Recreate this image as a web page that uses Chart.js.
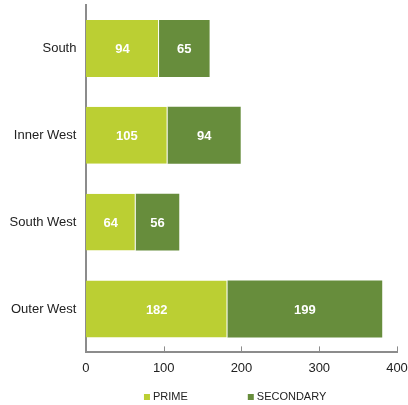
<!DOCTYPE html>
<html>
<head>
<meta charset="utf-8">
<script src="https://cdn.jsdelivr.net/npm/chart.js@4.4.1/dist/chart.umd.min.js"></script>
<style>
  html, body { margin: 0; padding: 0; background: #fff; }
  #wrap { width: 408px; height: 405px; }
</style>
</head>
<body>
<div id="wrap"><canvas id="chart"></canvas></div>
<script>
// regions and the two grades
const regions = ["South", "Inner West", "South West", "Outer West"];
const prime = [94, 105, 64, 182];
const secondary = [65, 94, 56, 199];
const xTicks = [0, 100, 200, 300, 400];

const axisGray = "#8c8c8c";
const font = "'Liberation Sans', Arial, sans-serif";

// white numbers in the middle of each bar piece
const barLabels = {
  id: "barLabels",
  afterDatasetsDraw(chart) {
    const ctx = chart.ctx;
    ctx.save();
    ctx.fillStyle = "#fff";
    ctx.font = "bold 13px " + font;
    ctx.textAlign = "center";
    ctx.textBaseline = "middle";
    chart.data.datasets.forEach((ds, i) => {
      chart.getDatasetMeta(i).data.forEach((bar, j) => {
        const p = bar.getCenterPoint();
        ctx.fillText(ds.data[j], p.x, p.y + 1);
      });
    });
    ctx.restore();
  }
};

// small tick marks pointing up from the x axis
const innerTicks = {
  id: "innerTicks",
  afterDraw(chart) {
    const x = chart.scales.x;
    const ctx = chart.ctx;
    ctx.save();
    ctx.strokeStyle = axisGray;
    ctx.lineWidth = 1;
    x.ticks.forEach((t) => {
      const px = Math.round(x.getPixelForValue(t.value)) + 0.5;
      ctx.beginPath();
      ctx.moveTo(px, x.top);
      ctx.lineTo(px, x.top - 6);
      ctx.stroke();
    });
    ctx.restore();
  }
};

// legend drawn under the axis, small square + caps text
const bottomLegend = {
  id: "bottomLegend",
  afterDraw(chart) {
    const ctx = chart.ctx;
    const area = chart.chartArea;
    let x = area.left + 58;
    const y = 397;
    ctx.save();
    ctx.font = "11px " + font;
    ctx.textBaseline = "middle";
    chart.data.datasets.forEach((ds) => {
      ctx.fillStyle = ds.backgroundColor;
      ctx.fillRect(x, y - 3, 6, 6);
      ctx.fillStyle = "#222";
      ctx.fillText(ds.label, x + 9, y);
      x += 9 + ctx.measureText(ds.label).width + 60;
    });
    ctx.restore();
  }
};

new Chart(document.getElementById("chart"), {
  type: "bar",
  data: {
    labels: regions,
    datasets: [
      {
        label: "PRIME",
        data: prime,
        backgroundColor: "#bbcf33",
        borderColor: "rgba(255,255,255,0.6)",
        borderWidth: { right: 1 },
        borderSkipped: false,
        categoryPercentage: 0.8,
        barPercentage: 0.82
      },
      {
        label: "SECONDARY",
        data: secondary,
        backgroundColor: "#678d3c",
        borderWidth: 0,
        categoryPercentage: 0.8,
        barPercentage: 0.82
      }
    ]
  },
  options: {
    indexAxis: "y",
    responsive: true,
    maintainAspectRatio: false,
    animation: false,
    layout: { padding: { top: 5, left: 0, right: 0, bottom: 21 } },
    scales: {
      x: {
        stacked: true,
        min: 0,
        max: 400,
        afterBuildTicks: (s) => { s.ticks = xTicks.map((v) => ({ value: v })); },
        afterFit: (s) => { s.paddingRight = 11; },
        grid: { display: false, drawTicks: false },
        border: { display: true, color: axisGray, width: 2 },
        ticks: {
          color: "#222",
          padding: 8,
          font: { family: font, size: 13 }
        }
      },
      y: {
        stacked: true,
        afterFit: (s) => { s.paddingTop = 0; s.paddingBottom = 0; },
        grid: { display: false, drawTicks: false },
        border: { display: true, color: axisGray, width: 2 },
        ticks: {
          color: "#222",
          padding: 9.5,
          font: { family: font, size: 13 }
        }
      }
    },
    plugins: {
      tooltip: { enabled: false },
      legend: { display: false }
    }
  },
  plugins: [barLabels, innerTicks, bottomLegend]
});
</script>
</body>
</html>
